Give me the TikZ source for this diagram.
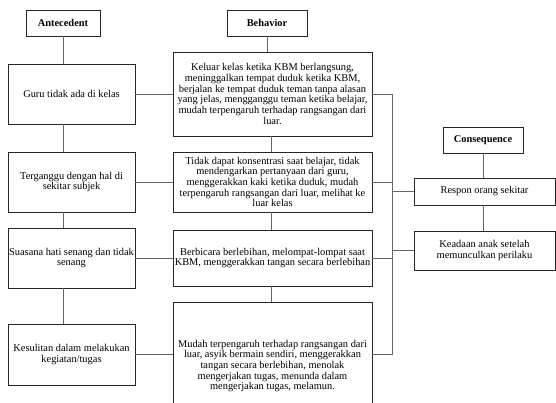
\documentclass[tikz,border=0pt]{standalone}
\usepackage{fontspec}
\setmainfont{Liberation Serif}
\usepackage{xcolor}

\tikzset{
  box/.style={draw=black!85, line width=0.8pt, align=center, inner sep=1pt,
    font=\fontsize{10.4}{10.7}\selectfont},
  head/.style={box, font=\fontsize{10.4}{10.7}\selectfont\bfseries},
  link/.style={draw=black!60, line width=0.9pt}
}

\begin{document}
\begin{tikzpicture}[x=1pt, y=-1pt]
  \clip (0,0) rectangle (556,403);
  \fill[white] (0,0) rectangle (556,403);

  % Antecedent column
  \node[head, minimum width=74pt, minimum height=26pt] (ante) at (63,23) {Antecedent};
  \node[box, minimum width=127pt, minimum height=60pt] (guru) at (71.5,94) {Guru tidak ada di kelas};
  \node[box, minimum width=127pt, minimum height=60pt] (gang) at (71.5,182) {Terganggu dengan hal di\\sekitar subjek};
  \node[box, minimum width=127pt, minimum height=60pt] (hati) at (71.5,258) {Suasana hati senang dan tidak\\senang};
  \node[box, minimum width=127pt, minimum height=61pt] (sulit) at (71.5,354.5) {Kesulitan dalam melakukan\\kegiatan/tugas};

  % Behavior column
  \node[head, minimum width=80pt, minimum height=26pt] (beh) at (267,23) {Behavior};
  \node[box, minimum width=199pt, minimum height=84pt] (bA) at (272.5,94) {Keluar kelas ketika KBM berlangsung,\\meninggalkan tempat duduk ketika KBM,\\berjalan ke tempat duduk teman tanpa alasan\\yang jelas, mengganggu teman ketika belajar,\\mudah terpengaruh terhadap rangsangan dari\\luar.};
  \node[box, minimum width=199pt, minimum height=60pt] (bB) at (272.5,182) {Tidak dapat konsentrasi saat belajar, tidak\\mendengarkan pertanyaan dari guru,\\menggerakkan kaki ketika duduk, mudah\\terpengaruh rangsangan dari luar, melihat ke\\luar kelas};
  \node[box, minimum width=199pt, minimum height=56pt] (bC) at (272.5,258) {Berbicara berlebihan, melompat-lompat saat\\KBM, menggerakkan tangan secara berlebihan};
  \node[box, minimum width=199pt, minimum height=128pt] (bD) at (272.5,366) {Mudah terpengaruh terhadap rangsangan dari\\luar, asyik bermain sendiri, menggerakkan\\tangan secara berlebihan, menolak\\mengerjakan tugas, menunda dalam\\mengerjakan tugas, melamun.};
  \coordinate (bcol) at (271,0);

  % Consequence column
  \node[head, minimum width=80pt, minimum height=26pt] (cons) at (483,140) {Consequence};
  \node[box, minimum width=141pt, minimum height=27pt] (resp) at (484.5,191.5) {Respon orang sekitar};
  \node[box, minimum width=141pt, minimum height=39pt] (kead) at (484.5,250.5) {Keadaan anak setelah\\memunculkan perilaku};
  \coordinate (bus) at (392,0);

  % vertical links
  \draw[link] (ante) -- (ante |- guru.north);
  \draw[link] (guru.south -| ante) -- (gang.north -| ante);
  \draw[link] (gang.south -| ante) -- (hati.north -| ante);
  \draw[link] (hati.south -| ante) -- (sulit.north -| ante);
  \draw[link] (beh) -- (beh |- bA.north);
  \draw[link] (bA.south -| bcol) -- (bB.north -| bcol);
  \draw[link] (bB.south -| bcol) -- (bC.north -| bcol);
  \draw[link] (bC.south -| bcol) -- (bD.north -| bcol);
  \draw[link] (cons) -- (cons |- resp.north);
  \draw[link] (resp.south -| cons) -- (kead.north -| cons);

  % antecedent to behavior
  \draw[link] (guru.east) -- (bA.west);
  \draw[link] (gang.east) -- (bB.west);
  \draw[link] (hati.east) -- (bC.west);
  \draw[link] (sulit.east) -- (sulit.east -| bD.west);

  % behavior to consequence
  \draw[link] (bA.east) -- (bA.east -| bus) -- (bus |- sulit.east) -- (sulit.east -| bD.east);
  \draw[link] (bB.east) -- (bB.east -| bus);
  \draw[link] (bC.east) -- (bC.east -| bus);
  \draw[link] (resp.west -| bus) -- (resp.west);
  \draw[link] (kead.west -| bus) -- (kead.west);
\end{tikzpicture}
\end{document}
